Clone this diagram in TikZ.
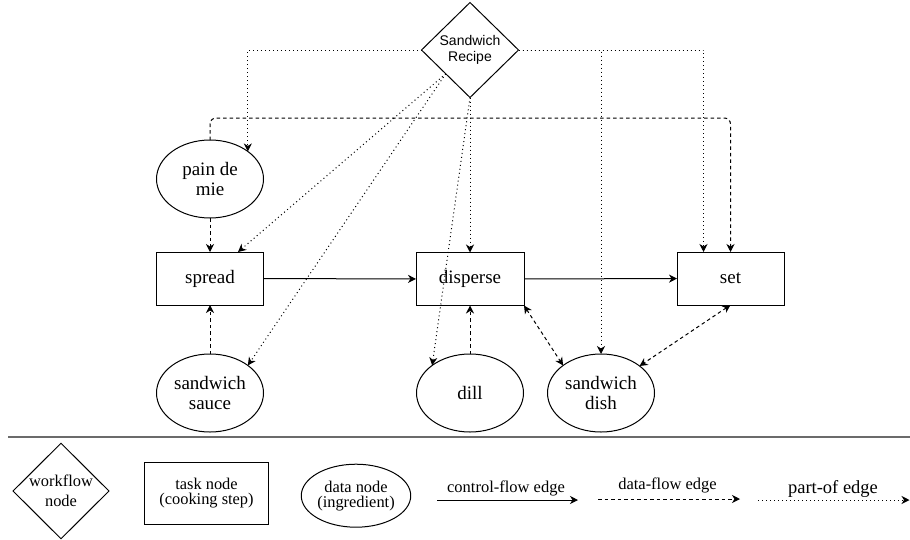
\documentclass[tikz,border=0pt]{standalone}
\usepackage{fontspec}
\setmainfont{Liberation Serif}
\newfontfamily\recipesans{Liberation Sans}
\newfontfamily\stepserif{Liberation Serif}
\usetikzlibrary{shapes.geometric,arrows.meta,calc}

\newcommand\ndfont{\stepserif\fontsize{19}{20.5}\selectfont}
\newcommand\lgfont{\stepserif\fontsize{16.4}{15}\selectfont}

\begin{document}
\begin{tikzpicture}[x=1pt,y=-1pt,
  every node/.style={inner sep=0pt,outer sep=0pt},
  wfnode/.style={draw,line width=1pt,diamond,align=center},
  tasknode/.style={draw,line width=1pt,rectangle,minimum width=107pt,minimum height=53pt,align=center,font=\ndfont},
  datanode/.style={draw,line width=1pt,ellipse,minimum width=107pt,minimum height=78pt,align=center,font=\ndfont},
  tip/.style={-{Stealth[length=8pt,width=8pt,inset=2.5pt]}},
  ctrlflow/.style={tip,line width=1pt},
  dataflow/.style={tip,line width=1pt,dash pattern=on 3.5pt off 3pt},
  databoth/.style={dataflow,{Stealth[length=8pt,width=8pt,inset=2.5pt]}-{Stealth[length=8pt,width=8pt,inset=2.5pt]}},
  partof/.style={tip,line width=1pt,dash pattern=on 1pt off 3pt}]
\useasboundingbox (0,0) rectangle (910,539);

% workflow and its steps
\node[wfnode,minimum width=97pt,minimum height=95pt,font=\recipesans\fontsize{14}{16}\selectfont] (recipe) at (470,50) {Sandwich\\Recipe};
\node[datanode] (pain) at (210,179) {pain de\\mie};
\node[tasknode] (spread) at (210,278.5) {spread};
\node[tasknode,minimum width=108pt] (disperse) at (470,279) {disperse};
\node[tasknode] (set) at (730.5,278.5) {set};
\node[datanode] (sauce) at (210,393) {sandwich\\sauce};
\node[datanode] (dill) at (470,393) {dill};
\node[datanode] (dish) at (601,393) {sandwich\\dish};

% control flow
\draw[ctrlflow] (spread) -- (disperse);
\draw[ctrlflow] (disperse) -- (set);

% data flow
\coordinate (dtop) at (470,118);
\draw[dataflow] (pain) -- (spread);
\draw[dataflow] (sauce) -- (spread);
\draw[dataflow] (dill) -- (disperse);
\draw[dataflow,rounded corners=6pt] (pain.north) |- (dtop) -| (set.north);
\draw[databoth] (disperse.south east) -- (dish.144);
\draw[databoth] (set.south) -- (dish.35);

% part-of relations
\coordinate (setin) at ($(set.north)+(-27,0)$);
\coordinate (spreadin) at ($(spread.north)+(28,0)$);
\draw[partof] (recipe.west) -| (pain.north east);
\draw[partof] (recipe.east) -| (setin);
\draw[partof] (recipe.east) -| (dish.north);
\draw[partof] (recipe.south) -- (disperse.north);
\draw[partof] (recipe.south west) -- (spreadin);
\draw[partof] (recipe.south west) -- (sauce.north east);
\draw[partof] (recipe.south) -- (dill.north west);

% legend
\coordinate (sepL) at (8,437);
\coordinate (sepR) at (910,437);
\draw[line width=2pt,color=black!58] (sepL) -- (sepR);

\node[wfnode,minimum width=96pt,minimum height=93pt,font=\stepserif\fontsize{16.4}{20}\selectfont] (lwf) at (61,491) {workflow\\node};
\node[tasknode,minimum width=124pt,minimum height=62pt,font=\lgfont] (ltask) at (206.5,493.3) {task node\\(cooking step)};
\node[datanode,minimum width=96pt,minimum height=63pt,font=\lgfont] (ldata) at (356,495.7) {data node\\(ingredient)};

\coordinate (cfA) at (437,500);
\coordinate (cfB) at (578,500);
\coordinate (dfA) at (598,499);
\coordinate (dfB) at (740,499);
\coordinate (poA) at (758,500);
\coordinate (poB) at (909.5,500);
\draw[ctrlflow] (cfA) -- (cfB);
\draw[dataflow] (dfA) -- (dfB);
\draw[partof] (poA) -- (poB);
\node[font=\stepserif\fontsize{16.5}{18}\selectfont] (cflabel) at (506,488) {control-flow edge};
\node[font=\stepserif\fontsize{16.5}{18}\selectfont] (dflabel) at (667.5,485.5) {data-flow edge};
\node[font=\stepserif\fontsize{18.5}{20}\selectfont] (polabel) at (833,489) {part-of edge};
\end{tikzpicture}
\end{document}
